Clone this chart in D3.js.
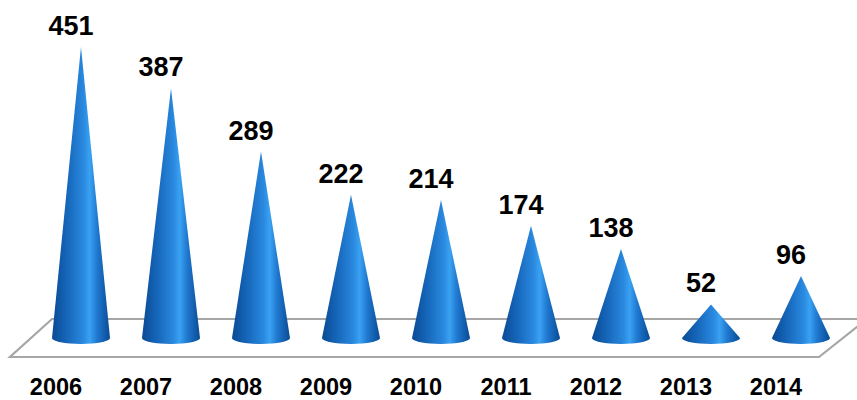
<!DOCTYPE html>
<html><head><meta charset="utf-8">
<script src="https://cdn.jsdelivr.net/npm/d3@7"></script>
<style>body{margin:0;background:#fff}svg{display:block}</style>
</head><body>
<script>
const years = ["2006","2007","2008","2009","2010","2011","2012","2013","2014"];
const values = [451,387,289,222,214,174,138,52,96];

const W = 857, H = 400;
const svg = d3.select("body").append("svg").attr("width", W).attr("height", H);

const x = d3.scalePoint().domain(years).range([81, 801]);
const y = d3.scaleLinear().domain([0, 451]).range([338, 47]);
const labelShift = -25;

const defs = svg.append("defs");
const g = defs.append("linearGradient").attr("id","cone").attr("x1","0").attr("x2","1").attr("y1","0").attr("y2","0");
[[0,"#0a4a94"],[0.25,"#1565b8"],[0.55,"#2a8ae0"],[0.65,"#3aa2f2"],[0.78,"#1f78cf"],[1,"#0a4a94"]]
  .forEach(([o,c])=>g.append("stop").attr("offset",o).attr("stop-color",c));

// floor
const floorFront = 357, floorBack = 319;
svg.append("path")
  .attr("d", `M10,${floorFront} L819,${floorFront} L867,${floorBack} L52,${floorBack} Z`)
  .attr("fill","#fff").attr("stroke","#a6a6a6").attr("stroke-width",2.2);

const r = 29, ry = 6;
const cones = svg.append("g");
years.forEach((yr,i)=>{
  const cx = x(yr), by = y(0), ay = y(values[i]);
  cones.append("path")
    .attr("d", `M${cx-r},${by} L${cx},${ay} L${cx+r},${by} A${r},${ry} 0 0 1 ${cx-r},${by} Z`)
    .attr("fill","url(#cone)");
  svg.append("text").attr("x", cx-10).attr("y", ay-12)
    .attr("text-anchor","middle").attr("font-family","Liberation Sans, Arial, sans-serif")
    .attr("font-weight","bold").attr("font-size",27).attr("fill","#000").text(values[i]);
  svg.append("text").attr("x", cx+labelShift).attr("y", 395)
    .attr("text-anchor","middle").attr("font-family","Liberation Sans, Arial, sans-serif")
    .attr("font-weight","bold").attr("font-size",23.5).attr("fill","#000").text(yr);
});
</script>
</body></html>
